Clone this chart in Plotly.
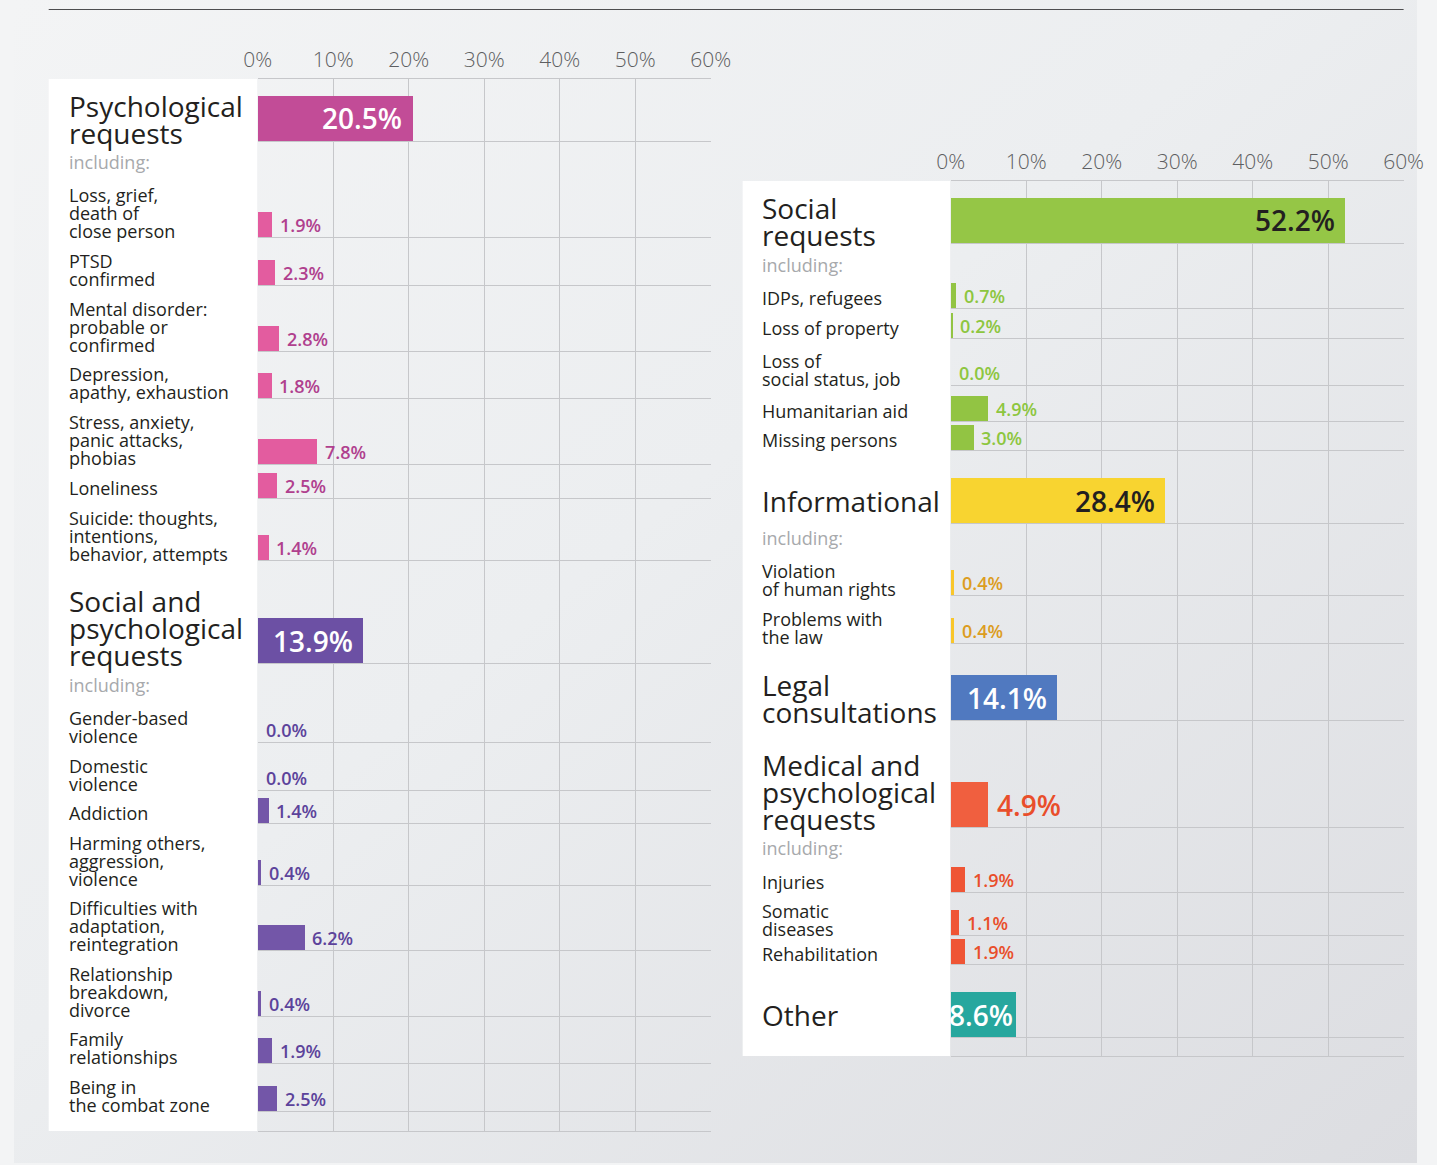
import base64
import plotly.graph_objects as go

# ---------------- DATA ----------------
left_labels = [
    "Psychological\nrequests",
    "Loss, grief,\ndeath of\nclose person",
    "PTSD\nconfirmed",
    "Mental disorder:\nprobable or\nconfirmed",
    "Depression,\napathy, exhaustion",
    "Stress, anxiety,\npanic attacks,\nphobias",
    "Loneliness",
    "Suicide: thoughts,\nintentions,\nbehavior, attempts",
    "Social and\npsychological\nrequests",
    "Gender-based\nviolence",
    "Domestic\nviolence",
    "Addiction",
    "Harming others,\naggression,\nviolence",
    "Difficulties with\nadaptation,\nreintegration",
    "Relationship\nbreakdown,\ndivorce",
    "Family\nrelationships",
    "Being in\nthe combat zone",
]
left_values = [20.5, 1.9, 2.3, 2.8, 1.8, 7.8, 2.5, 1.4,
               13.9, 0.0, 0.0, 1.4, 0.4, 6.2, 0.4, 1.9, 2.5]
left_groups = ["psych"] * 8 + ["socpsych"] * 9
left_is_total = [True] + [False] * 7 + [True] + [False] * 8

right_labels = [
    "Social\nrequests",
    "IDPs, refugees",
    "Loss of property",
    "Loss of\nsocial status, job",
    "Humanitarian aid",
    "Missing persons",
    "Informational",
    "Violation\nof human rights",
    "Problems with\nthe law",
    "Legal\nconsultations",
    "Medical and\npsychological\nrequests",
    "Injuries",
    "Somatic\ndiseases",
    "Rehabilitation",
    "Other",
]
right_values = [52.2, 0.7, 0.2, 0.0, 4.9, 3.0,
                28.4, 0.4, 0.4,
                14.1,
                4.9, 1.9, 1.1, 1.9,
                8.6]
right_groups = ["social"] * 6 + ["info"] * 3 + ["legal"] + ["medical"] * 4 + ["other"]
right_is_total = [True, False, False, False, False, False,
                  True, False, False,
                  True,
                  True, False, False, False,
                  True]

tick_values = [0, 10, 20, 30, 40, 50, 60]
tick_labels = ["0%", "10%", "20%", "30%", "40%", "50%", "60%"]
including_text = "including:"

# ---------------- LAYOUT / STYLE ----------------
W, H = 1437, 1165
# horizontal placement calibration (target pixel -> page pixel)
CAL_X0, CAL_SX = 14.3, 0.9764
FONT = "Open Sans"
TEXT_DARK = "#231f20"
GRID = "#c6c7ca"

left_row_h = [62, 96, 48, 66, 47, 66, 34, 62, 103, 79, 48, 33, 62, 65, 66, 47, 48]
left_pad = 20
right_row_h = [62, 65, 30, 47, 36, 29, 73, 72, 48, 77, 107, 65, 43, 29, 73]
right_pad = 19

geom_left = dict(gx0=258, gx1=711, top=79, bx0=49, lx=67)
geom_right = dict(gx0=951, gx1=1404, top=181, bx0=743, lx=760)

style = {
    "psych":    dict(head="#c24c97", sub="#e35c9f", sublab="#b0408e", headlab="white", incl=21),
    "socpsych": dict(head="#6c50a4", sub="#7356a8", sublab="#5c439b", headlab="white", incl=22),
    "social":   dict(head="#95c646", sub="#92c443", sublab="#8dc63f", headlab=TEXT_DARK, incl=22),
    "info":     dict(head="#f8d430", sub="#f9c62a", sublab="#dc9d1f", headlab=TEXT_DARK, incl=15),
    "legal":    dict(head="#5079c0", sub="#5079c0", sublab="#3d63ad", headlab="white", incl=21),
    "medical":  dict(head="#f05f3f", sub="#ef5535", sublab="#e94e2b", headlab="#e94e2b", incl=21),
    "other":    dict(head="#27a79e", sub="#27a79e", sublab="#1e9a86", headlab="white", incl=21),
}
inside_pad = {"other": 1}

HEAD_T, SUB_T = 45, 25
HEAD_FS, SUB_FS = 28, 18
HEAD_LS, SUB_LS = 27, 18

fig = go.Figure()
annotations = []
shapes = []


def px_x(p):
    return ((p - CAL_X0) / CAL_SX) / W


def px_y(p):
    return 1 - p / H


def build_panel(labels, values, groups, totals, row_h, pad, g, xa, ya):
    total_h = sum(row_h) + pad
    bottoms = []
    acc = 0
    for h in row_h:
        acc += h
        bottoms.append(acc)
    tops = [b - h for b, h in zip(bottoms, row_h)]
    thick = [HEAD_T if t else SUB_T for t in totals]
    centers = [b - t / 2 for b, t in zip(bottoms, thick)]
    colors = [style[gr]["head"] if t else style[gr]["sub"] for gr, t in zip(groups, totals)]

    fig.add_trace(go.Bar(
        x=values, y=centers, width=thick, orientation="h",
        marker=dict(color=colors, line=dict(width=0)),
        xaxis=xa, yaxis=ya, hoverinfo="skip", showlegend=False,
    ))

    lx = px_x(g["lx"])
    seen = set()
    for i, (lab, v, gr, t) in enumerate(zip(labels, values, groups, totals)):
        st = style[gr]
        lines = lab.split("\n")
        n = len(lines)
        if t:
            fs, ls = HEAD_FS, HEAD_LS
            last = bottoms[i] - 8 if n > 1 else centers[i]
        else:
            fs, ls = SUB_FS, SUB_LS
            last = bottoms[i] - 6 if n > 1 else bottoms[i] - 10
        for k, line in enumerate(lines):
            annotations.append(dict(
                x=lx, xref="paper", y=last - (n - 1 - k) * ls, yref=ya,
                text=line, showarrow=False, xanchor="left", yanchor="middle",
                font=dict(family=FONT, size=fs, color=TEXT_DARK),
            ))
        if not t and gr not in seen:
            seen.add(gr)
            annotations.append(dict(
                x=lx, xref="paper", y=tops[i] + st["incl"], yref=ya,
                text=including_text, showarrow=False, xanchor="left", yanchor="middle",
                font=dict(family=FONT, size=SUB_FS, color="#a7a9ac"),
            ))
        txt = f"{v:.1f}%"
        if t:
            inside = v >= 8
            annotations.append(dict(
                x=v, xref=xa, y=centers[i], yref=ya, text=txt, showarrow=False,
                xanchor="right" if inside else "left", yanchor="middle",
                xshift=-inside_pad.get(gr, 8) if inside else 7,
                font=dict(family=FONT, size=28, color=st["headlab"], weight=600),
            ))
        else:
            annotations.append(dict(
                x=v, xref=xa, y=centers[i], yref=ya, text=txt, showarrow=False,
                xanchor="left", yanchor="middle", xshift=6,
                font=dict(family=FONT, size=SUB_FS, color=st["sublab"], weight=600),
            ))

    shapes.append(dict(
        type="rect", xref="paper", yref="paper",
        x0=px_x(g["bx0"]), x1=px_x(g["gx0"]) - 0.5 / W,
        y0=px_y(g["top"] + total_h), y1=px_y(g["top"]),
        fillcolor="white", line=dict(width=0), layer="below",
    ))

    xdom = [px_x(g["gx0"]), px_x(g["gx1"])]
    ydom = [px_y(g["top"] + total_h), px_y(g["top"])]
    xaxis = dict(
        domain=xdom, range=[0, 60], side="top", anchor=ya,
        tickvals=tick_values, ticktext=tick_labels,
        tickfont=dict(family=FONT, size=21, color="#5d5e61", weight=300),
        ticklabelstandoff=3,
        showgrid=True, gridcolor=GRID, gridwidth=1,
        zeroline=True, zerolinecolor="rgba(0,0,0,0)",
        showline=True, mirror=True, linecolor=GRID, linewidth=1,
        ticks="", fixedrange=True,
    )
    yaxis = dict(
        domain=ydom, range=[total_h, 0], anchor=xa,
        tickvals=[0] + bottoms + [total_h], showticklabels=False,
        showgrid=True, gridcolor=GRID, gridwidth=1,
        zeroline=False, showline=False, ticks="", fixedrange=True,
    )
    return xaxis, yaxis


xl, yl = build_panel(left_labels, left_values, left_groups, left_is_total,
                     left_row_h, left_pad, geom_left, "x", "y")
xr, yr = build_panel(right_labels, right_values, right_groups, right_is_total,
                     right_row_h, right_pad, geom_right, "x2", "y2")

shapes.append(dict(type="line", xref="paper", yref="paper",
                   x0=px_x(49), x1=px_x(1404), y0=px_y(9.5), y1=px_y(9.5),
                   line=dict(color="#4d4d4f", width=1), layer="below"))

svg = (f'<svg xmlns="http://www.w3.org/2000/svg" width="{W}" height="{H}" '
       f'viewBox="0 0 {W} {H}" preserveAspectRatio="none">'
       '<defs><linearGradient id="g" x1="0" y1="0" x2="1" y2="1">'
       '<stop offset="0" stop-color="#f3f4f5"/>'
       '<stop offset="0.45" stop-color="#eceef0"/>'
       '<stop offset="1" stop-color="#dcdde1"/>'
       '</linearGradient></defs>'
       f'<rect x="0" y="0" width="{W}" height="{H - 2}" fill="url(#g)"/></svg>')
bg_src = "data:image/svg+xml;base64," + base64.b64encode(svg.encode()).decode()

fig.update_layout(
    width=W, height=H, autosize=False,
    margin=dict(l=0, r=0, t=0, b=0),
    paper_bgcolor="#f3f4f5", plot_bgcolor="rgba(0,0,0,0)",
    xaxis=xl, yaxis=yl, xaxis2=xr, yaxis2=yr,
    annotations=annotations, shapes=shapes,
    images=[dict(source=bg_src, xref="paper", yref="paper", x=0, y=1,
                 sizex=1, sizey=1, xanchor="left", yanchor="top",
                 sizing="stretch", layer="below")],
    bargap=0, hovermode=False, showlegend=False,
    font=dict(family=FONT),
)

page_fix = (
    "document.body.style.margin='0';"
    "document.body.style.overflow='hidden';"
    "document.documentElement.style.overflow='hidden';"
)

fig.write_html("out.html", config={"responsive": False, "displayModeBar": False},
               post_script=page_fix)
